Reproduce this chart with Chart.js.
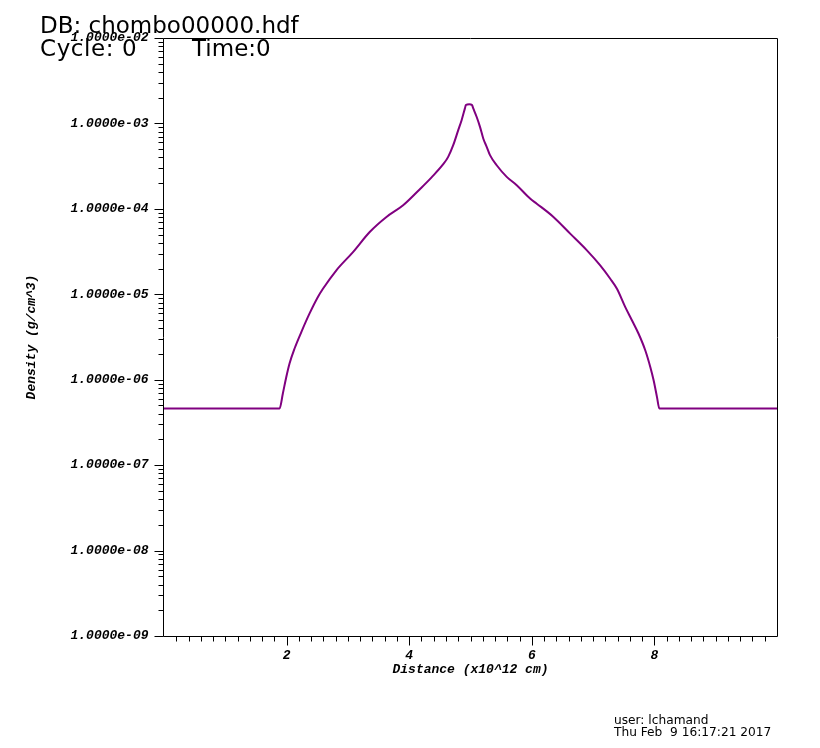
<!DOCTYPE html>
<html>
<head>
<meta charset="utf-8">
<script src="https://cdn.jsdelivr.net/npm/chart.js@4.4.1/dist/chart.umd.min.js"></script>
<style>
html,body{margin:0;padding:0;background:#fff;width:820px;height:748px;overflow:hidden}
#wrap{position:relative;width:820px;height:748px}
#c{position:absolute;left:0;top:0}
.t{position:absolute;font-family:"DejaVu Sans",sans-serif;color:#000;white-space:pre;line-height:1}
.big{font-size:23px}
.small{font-size:12.2px}
</style>
</head>
<body>
<div id="wrap">
<canvas id="c" width="820" height="748"></canvas>
<div class="t big" style="left:40px;top:13.5px">DB: chombo00000.hdf</div>
<div class="t big" style="left:40px;top:37px;letter-spacing:0.6px">Cycle: 0</div>
<div class="t big" style="left:192px;top:37px">Time:0</div>
<div class="t small" style="left:614px;top:714px">user: lchamand</div>
<div class="t small" style="left:614px;top:726px">Thu Feb  9 16:17:21 2017</div>
</div>
<script>
// ---- data ----
const distance = [0, 1.885, 1.939, 1.994, 2.048, 2.130, 2.240, 2.375, 2.506, 2.593, 2.812, 3.083, 3.356, 3.629, 3.901, 4.174, 4.365, 4.555, 4.636, 4.718, 4.800, 4.855, 4.909, 4.925, 4.980, 5.024, 5.045, 5.101, 5.155, 5.208, 5.264, 5.318, 5.427, 5.591, 5.754, 5.972, 6.081, 6.353, 6.626, 6.899, 7.116, 7.280, 7.389, 7.525, 7.635, 7.742, 7.852, 7.934, 7.988, 8.043, 8.081, 10];
const density = [4.6e-7, 4.6e-7, 6.9e-7, 1.07e-6, 1.55e-6, 2.32e-6, 3.61e-6, 5.97e-6, 9.18e-6, 1.16e-5, 1.91e-5, 3.12e-5, 5.36e-5, 8.04e-5, 1.10e-4, 1.70e-4, 2.34e-4, 3.33e-4, 4.06e-4, 5.56e-4, 8.34e-4, 1.09e-3, 1.50e-3, 1.64e-3, 1.68e-3, 1.64e-3, 1.50e-3, 1.19e-3, 9.12e-4, 6.67e-4, 5.32e-4, 4.25e-4, 3.24e-4, 2.37e-4, 1.89e-4, 1.32e-4, 1.15e-4, 8.04e-5, 5.13e-5, 3.27e-5, 2.18e-5, 1.52e-5, 1.16e-5, 7.08e-6, 4.94e-6, 3.45e-6, 2.20e-6, 1.40e-6, 9.77e-7, 6.22e-7, 4.6e-7, 4.6e-7];
const xTickValues = [2, 4, 6, 8];
const xTickLabels = ['2', '4', '6', '8'];
const yTickValues = [1e-9, 1e-8, 1e-7, 1e-6, 1e-5, 1e-4, 1e-3, 1e-2];
const yTickLabels = ['1.0000e-09', '1.0000e-08', '1.0000e-07', '1.0000e-06', '1.0000e-05', '1.0000e-04', '1.0000e-03', '1.0000e-02'];
const xTitle = 'Distance (x10^12 cm)';
const yTitle = 'Density (g/cm^3)';

const axisFont = {family: '"Liberation Mono", "Courier New", monospace', size: 13, style: 'italic', weight: 'bold'};

const frameAndTicks = {
  id: 'frameAndTicks',
  afterDraw(chart) {
    const {ctx, chartArea: a, scales: {x, y}} = chart;
    ctx.save();
    ctx.strokeStyle = '#000';
    ctx.lineWidth = 1;
    const L = Math.round(a.left) - 0.5, R = Math.round(a.right) + 0.5;
    const T = Math.round(a.top) + 0.5, B = Math.round(a.bottom) + 0.5;
    ctx.beginPath();
    ctx.rect(L, T, R - L, B - T);
    ctx.stroke();
    ctx.beginPath();
    for (let k = 1; k < 50; k++) {
      const v = k * 0.2;
      const px = Math.round(x.getPixelForValue(v)) + 0.5;
      const major = (k % 10 === 0);
      ctx.moveTo(px, B);
      ctx.lineTo(px, B + (major ? 9 : 5));
    }
    for (let e = -9; e <= -2; e++) {
      for (let m = 1; m <= 9; m++) {
        const v = m * Math.pow(10, e);
        if (v > 1.0001e-2) break;
        const py = Math.round(y.getPixelForValue(v)) + 0.5;
        ctx.moveTo(L, py);
        ctx.lineTo(L - (m === 1 ? 9 : 5), py);
      }
    }
    ctx.stroke();
    ctx.restore();
  }
};

new Chart(document.getElementById('c'), {
  type: 'line',
  data: {
    datasets: [{
      data: distance.map((d, i) => ({x: d, y: density[i]})),
      borderColor: '#800080',
      borderWidth: 2,
      pointRadius: 0,
      cubicInterpolationMode: 'monotone',
      fill: false
    }]
  },
  options: {
    responsive: false,
    animation: false,
    devicePixelRatio: 1,
    layout: {padding: {left: 0, top: 38, right: 43, bottom: 0}},
    plugins: {legend: {display: false}, tooltip: {enabled: false}},
    scales: {
      x: {
        type: 'linear', min: 0, max: 10,
        grid: {display: false, drawTicks: false, tickLength: 0},
        border: {display: false},
        afterBuildTicks: s => { s.ticks = xTickValues.map(v => ({value: v})); },
        afterFit: s => { s.height = 112; },
        ticks: {
          autoSkip: false, maxRotation: 0, padding: 12, color: '#000', font: axisFont,
          callback: (v) => { const i = xTickValues.indexOf(v); return i >= 0 ? xTickLabels[i] : ''; }
        },
        title: {display: true, text: xTitle, color: '#000', font: axisFont, padding: {top: 0, bottom: 70}}
      },
      y: {
        type: 'logarithmic', min: 1e-9, max: 1e-2,
        grid: {display: false, drawTicks: false, tickLength: 0},
        border: {display: false},
        afterBuildTicks: s => { s.ticks = yTickValues.map(v => ({value: v})); },
        afterFit: s => { s.width = 164; },
        ticks: {
          autoSkip: false, padding: 15.5, color: '#000', font: axisFont,
          callback: (v) => { const i = yTickValues.findIndex(t => Math.abs(t - v) / t < 1e-6); return i >= 0 ? yTickLabels[i] : ''; }
        },
        title: {display: true, text: yTitle, color: '#000', font: axisFont, padding: {top: 24, bottom: 0}}
      }
    }
  },
  plugins: [frameAndTicks]
});
</script>
</body>
</html>
